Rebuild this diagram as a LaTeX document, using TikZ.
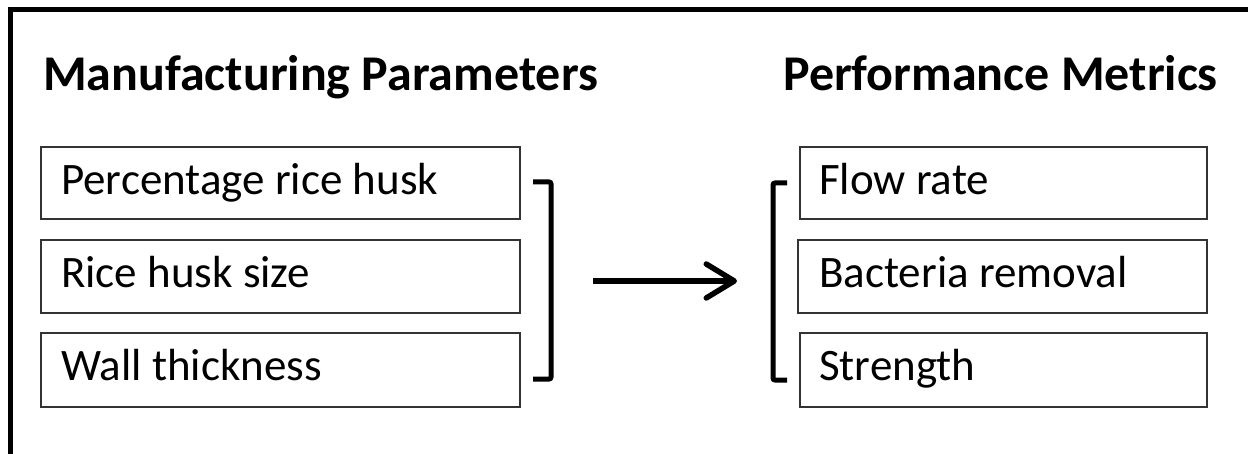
\documentclass[tikz,border=0pt]{standalone}
\usepackage{fontspec}
\setmainfont{Carlito}
\usetikzlibrary{arrows.meta}
\tikzset{
  frame/.style={line width=5pt, black},
  pbox/.style={draw=black!80, line width=1.6pt, rectangle, inner sep=0pt, minimum height=72pt},
  title/.style={anchor=base west, inner sep=0pt, font=\fontsize{50}{60}\selectfont\bfseries},
  lbl/.style={anchor=base west, inner sep=0pt, font=\fontsize{45}{54}\selectfont},
  brack/.style={line width=5pt, rounded corners=2pt},
  flow/.style={line width=5.5pt, -{Straight Barb[length=28pt, width=34pt, line cap=round, round]}}
}
\begin{document}
\begin{tikzpicture}[x=1pt,y=-1pt]
\useasboundingbox (0,0) rectangle (1248,454);
\fill[white] (0,0) rectangle (1248,454);
% outer frame (continues beyond the picture on the right and bottom)
\draw[frame] (1260,9.5) -- (10.5,9.5) -- (10.5,470);
% titles
\node[title] (t1) at (43,91) {Manufacturing Parameters};
\node[title] (t2) at (783,91) {Performance Metrics};
% left boxes
\node[pbox, minimum width=479pt] (l1) at (280.5,183) {};
\node[pbox, minimum width=479pt, minimum height=73pt] (l2) at (280.5,276.5) {};
\node[pbox, minimum width=479pt, minimum height=74pt] (l3) at (280.5,370) {};
\node[lbl] (l1t) at (61,195) {Percentage rice husk};
\node[lbl] (l2t) at (61,288) {Rice husk size};
\node[lbl] (l3t) at (61,381) {Wall thickness};
% right boxes
\node[pbox, minimum width=407pt] (r1) at (1003.5,183) {};
\node[pbox, minimum width=409pt, minimum height=73pt] (r2) at (1002.5,276.5) {};
\node[pbox, minimum width=407pt, minimum height=74pt] (r3) at (1003.5,370) {};
\node[lbl] (r1t) at (819,195) {Flow rate};
\node[lbl] (r2t) at (819,288) {Bacteria removal};
\node[lbl] (r3t) at (819,381) {Strength};
% brackets
\draw[brack] (533,182) -- (551,182) -- (551,379) -- (533,379);
\draw[brack] (787,183) -- (773,183) -- (773,380) -- (787,380);
% arrow
\coordinate (as) at (593,281);
\coordinate (ae) at (737,281);
\draw[flow] (as) -- (ae);
\end{tikzpicture}
\end{document}
